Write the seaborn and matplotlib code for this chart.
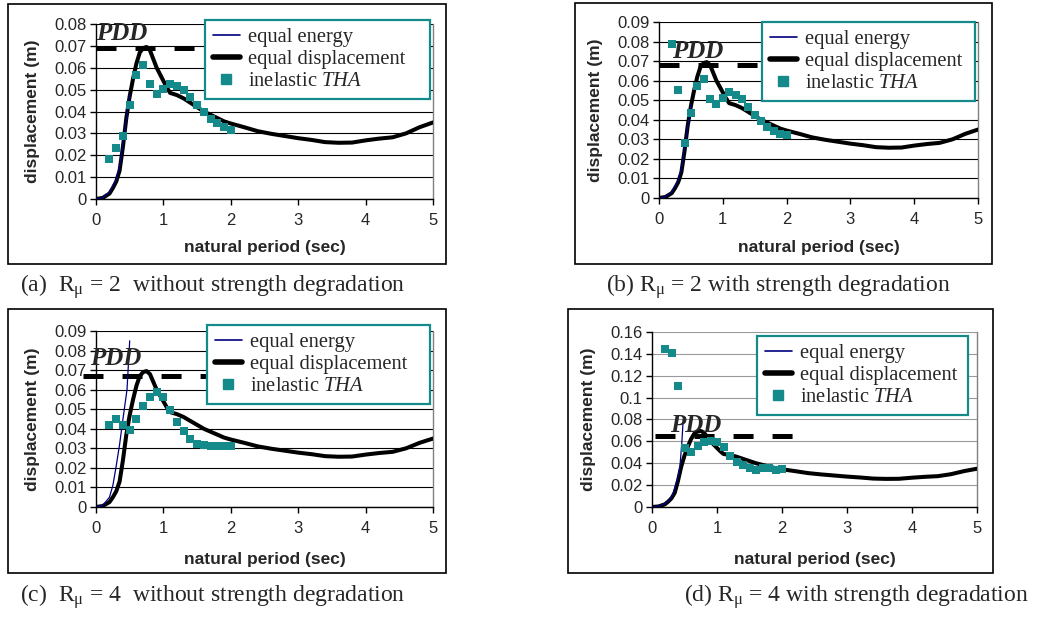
import matplotlib
matplotlib.use("Agg")
import matplotlib.pyplot as plt
from matplotlib.patches import Rectangle
from matplotlib.lines import Line2D
from matplotlib.ticker import MultipleLocator, FuncFormatter
import seaborn as sns

#===============================================================
#        DISPLACEMENT SPECTRA: EQUAL ENERGY / DISPLACEMENT / THA
#===============================================================

# Elastic spectrum (equal displacement rule), same in every panel
period = [0.0, 0.1, 0.2, 0.25, 0.3, 0.35, 0.4, 0.45, 0.5, 0.55, 0.6, 0.65, 0.7,
          0.75, 0.8, 0.85, 0.9, 0.95, 1.0, 1.05, 1.1, 1.15, 1.2, 1.3, 1.4, 1.5,
          1.6, 1.7, 1.8, 1.9, 2.0, 2.2, 2.4, 2.6, 2.8, 3.0, 3.2, 3.4, 3.6, 3.8,
          4.0, 4.2, 4.4, 4.6, 4.8, 5.0]
equal_disp = [0.0, 0.0005, 0.0025, 0.005, 0.008, 0.013, 0.024, 0.037, 0.047,
              0.055, 0.062, 0.067, 0.069, 0.0695, 0.068, 0.064, 0.060, 0.057,
              0.054, 0.051, 0.0485, 0.048, 0.0475, 0.046, 0.044, 0.042, 0.040,
              0.0385, 0.037, 0.0355, 0.0345, 0.0328, 0.031, 0.0298, 0.0288,
              0.0278, 0.027, 0.026, 0.0257, 0.0258, 0.0268, 0.0276, 0.0282,
              0.030, 0.0328, 0.035]

# Equal energy rule (short branch)
ee_period_a = [0.0, 0.1, 0.2, 0.3, 0.35, 0.4, 0.45, 0.5]
ee_disp_a = [0.0, 0.0006, 0.003, 0.009, 0.015, 0.025, 0.036, 0.048]
ee_period_b = [0.0, 0.1, 0.2, 0.3, 0.35, 0.4, 0.45, 0.5]
ee_disp_b = [0.0, 0.0006, 0.003, 0.009, 0.015, 0.025, 0.036, 0.048]
ee_period_c = [0.0, 0.1, 0.2, 0.25, 0.3, 0.35, 0.4, 0.46, 0.5]
ee_disp_c = [0.0, 0.0008, 0.005, 0.011, 0.021, 0.032, 0.045, 0.060, 0.085]
ee_period_d = [0.0, 0.1, 0.2, 0.25, 0.3, 0.35, 0.4, 0.43, 0.46, 0.48]
ee_disp_d = [0.0, 0.0008, 0.003, 0.005, 0.009, 0.017, 0.027, 0.037, 0.060, 0.080]

# Inelastic time-history analysis
tha_period = [0.2, 0.3, 0.4, 0.5, 0.6, 0.7, 0.8, 0.9, 1.0, 1.1, 1.2, 1.3, 1.4,
              1.5, 1.6, 1.7, 1.8, 1.9, 2.0]
tha_a = [0.0183, 0.0233, 0.0287, 0.0431, 0.0565, 0.0614, 0.0527, 0.048, 0.0504,
         0.0527, 0.0518, 0.050, 0.0466, 0.0428, 0.0396, 0.0366, 0.0347, 0.0328, 0.0314]
tha_b = [0.0788, 0.055, 0.0282, 0.0433, 0.0572, 0.061, 0.0507, 0.0483, 0.0512,
         0.0541, 0.0527, 0.0507, 0.0467, 0.0425, 0.0396, 0.0361, 0.0341, 0.0325, 0.032]
tha_c = [0.042, 0.0451, 0.042, 0.0395, 0.0449, 0.0517, 0.0561, 0.059, 0.0565,
         0.0497, 0.0437, 0.039, 0.0347, 0.0323, 0.0318, 0.0313, 0.0313, 0.0313, 0.0313]
tha_d = [0.144, 0.141, 0.111, 0.0543, 0.0507, 0.0559, 0.0598, 0.0607, 0.0598,
         0.0553, 0.0468, 0.0416, 0.038, 0.0355, 0.034, 0.0361, 0.0355, 0.034, 0.0346]

# PDD (predicted design displacement) level and extent
pdd_level = [0.069, 0.068, 0.067, 0.065]
pdd_start = [0.0, 0.0, -0.2, 0.05]
pdd_end = [2.0, 2.0, 2.0, 2.3]

y_max = [0.08, 0.09, 0.09, 0.16]
y_step = [0.01, 0.01, 0.01, 0.02]

captions = [
    r"(a)  R$_{\mathrm{\mu}}$ = 2  without strength degradation",
    r"(b) R$_{\mathrm{\mu}}$ = 2 with strength degradation",
    r"(c)  R$_{\mathrm{\mu}}$ = 4  without strength degradation",
    r"(d) R$_{\mathrm{\mu}}$ = 4 with strength degradation",
]

# Layout in pixels (figure is 1045 x 618)
W, H = 1045, 618
axes_px = [(96, 24, 433, 199), (659, 22, 978, 198), (96, 331, 433, 507), (652, 332, 977, 507)]
frame_px = [(8, 4, 446, 264), (575, 3, 992, 264), (8, 309, 446, 573), (568, 309, 993, 573)]
legend_px = [(205, 20, 430, 97), (762, 22, 975, 99), (207, 325, 430, 402), (757, 336, 968, 411)]
caption_px = [(20, 287), (606, 287), (20, 597), (684, 597)]
pdd_text_pos = [(0.0, 0.0725), (0.2, 0.0716), (-0.09, 0.0726), (0.28, 0.0688)]
ylabel_x = [-0.165, -0.176, -0.165, -0.172]
xlabel_y = [-0.235, -0.239, -0.255, -0.255]

TEAL = "#148a8a"
NAVY = "#000080"

sns.set_style("white")
plt.rcParams["font.family"] = ["Liberation Sans", "DejaVu Sans"]
plt.rcParams["mathtext.fontset"] = "custom"
plt.rcParams["mathtext.rm"] = "Liberation Serif"
plt.rcParams["mathtext.it"] = "Liberation Serif:italic"
plt.rcParams["lines.scale_dashes"] = False


def px_box(x0, y0, x1, y1):
    return x0 / W, 1 - y1 / H, (x1 - x0) / W, (y1 - y0) / H


fig = plt.figure(figsize=(W / 100, H / 100), dpi=100)

ee_sets = [(ee_period_a, ee_disp_a), (ee_period_b, ee_disp_b),
           (ee_period_c, ee_disp_c), (ee_period_d, ee_disp_d)]
tha_sets = [tha_a, tha_b, tha_c, tha_d]

for i in range(4):
    # chart area frame
    fx, fy, fw, fh = px_box(*frame_px[i])
    fig.patches.append(Rectangle((fx, fy), fw, fh, transform=fig.transFigure,
                                 fill=False, edgecolor="black", linewidth=1.2))

    ax = fig.add_axes(px_box(*axes_px[i]))
    ee_x, ee_y = ee_sets[i]

    sns.lineplot(x=ee_x, y=ee_y, color=NAVY, linewidth=0.9, ax=ax, zorder=4)
    sns.lineplot(x=period, y=equal_disp, color="black", linewidth=2.9, ax=ax, zorder=3)
    sns.scatterplot(x=tha_period, y=tha_sets[i], marker="s", s=28, color=TEAL,
                    edgecolor=TEAL, linewidth=0, ax=ax, zorder=5)
    ax.plot([pdd_start[i], pdd_end[i]], [pdd_level[i], pdd_level[i]], color="black",
            linewidth=3.6, dashes=(14.4, 13.7), solid_capstyle="butt",
            dash_capstyle="butt", clip_on=False, zorder=2)
    ax.text(pdd_text_pos[i][0], pdd_text_pos[i][1], "PDD", family="Liberation Serif",
            style="italic", weight="bold", fontsize=18, ha="left", va="baseline", zorder=6)

    ax.set_xlim(0, 5)
    ax.set_ylim(0, y_max[i])
    ax.xaxis.set_major_locator(MultipleLocator(1))
    ax.yaxis.set_major_locator(MultipleLocator(y_step[i]))
    ax.yaxis.set_major_formatter(FuncFormatter(lambda v, p: f"{round(v, 3):g}"))
    ax.tick_params(direction="out", length=4, width=1, color="black",
                   labelsize=12, pad=6, bottom=True, left=True)
    ax.tick_params(axis="y", pad=3)

    grid_color = "#9a9a9a" if i == 3 else "black"
    ax.yaxis.grid(True, color=grid_color, linewidth=0.8)
    ax.xaxis.grid(False)
    ax.set_axisbelow(True)

    ax.spines["top"].set_visible(False)
    ax.spines["right"].set_color("#808080")
    ax.spines["right"].set_linewidth(1)
    for side in ["left", "bottom"]:
        ax.spines[side].set_color("black")
        ax.spines[side].set_linewidth(1)

    ax.set_xlabel("natural period (sec)", fontsize=12.5, fontweight="bold")
    ax.set_ylabel("displacement (m)", fontsize=12.5, fontweight="bold")
    ax.xaxis.set_label_coords(0.5, xlabel_y[i])
    ax.yaxis.set_label_coords(ylabel_x[i], 0.5)

    if ax.get_legend() is not None:
        ax.get_legend().remove()

    handles = [
        Line2D([], [], color=NAVY, linewidth=1.2),
        Line2D([], [], color="black", linewidth=4),
        Line2D([], [], color=TEAL, marker="s", linestyle="none", markersize=6.5),
    ]
    labels = ["equal energy", "equal displacement", r"inelastic $\mathit{THA}$"]
    lx0, ly0, lx1, ly1 = legend_px[i]
    leg = ax.legend(handles, labels, loc="upper left", mode="expand",
                    bbox_to_anchor=px_box(lx0, ly0, lx1, ly1),
                    bbox_transform=fig.transFigure,
                    borderaxespad=0, fancybox=False, framealpha=1,
                    prop={"family": "Liberation Serif", "size": 14.8},
                    handlelength=1.3, handletextpad=0.4, labelspacing=0.12,
                    borderpad=0.38)
    leg.get_frame().set_edgecolor(TEAL)
    leg.get_frame().set_linewidth(1.6)
    leg.set_zorder(10)

    cx, cy = caption_px[i]
    fig.text(cx / W, 1 - cy / H, captions[i], family="Liberation Serif",
             fontsize=17, ha="left", va="center")

fig.savefig("out.png", dpi=100)
